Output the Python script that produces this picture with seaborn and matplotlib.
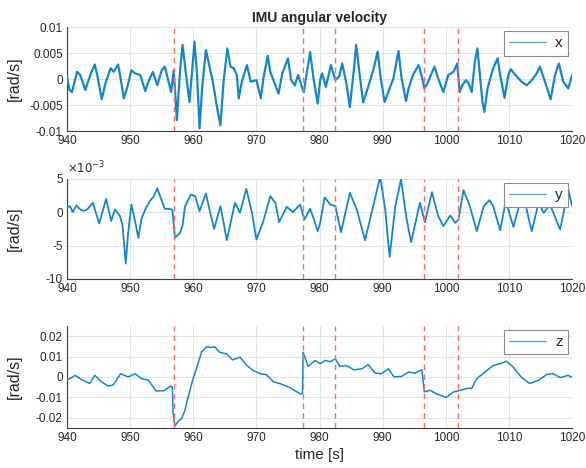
import numpy as np
import pandas as pd
import matplotlib
matplotlib.use("Agg")
import matplotlib.pyplot as plt
import seaborn as sns

# ---------------- data ----------------
t_x = [940.0, 940.4, 940.8, 941.6, 942.1, 942.9, 943.7, 944.4, 944.8, 945.5, 946.1, 946.9,
       947.4, 948.1, 948.4, 949.0, 949.5, 950.2, 950.8, 951.6, 952.4, 953.0, 953.6, 954.3,
       955.0, 955.5, 956.1, 956.5, 956.9, 957.2, 957.4, 957.9, 958.3, 958.8, 959.4, 959.8,
       960.2, 960.6, 961.0, 961.4, 962.0, 962.4, 963.1, 963.8, 964.3, 964.8, 965.4, 965.9,
       966.4, 966.9, 967.2, 967.7, 968.5, 969.1, 970.0, 970.7, 971.1, 971.8, 972.2, 973.0,
       973.5, 974.1, 975.0, 975.5, 976.1, 976.6, 977.2, 977.5, 978.0, 978.5, 979.0, 979.7,
       980.1, 980.4, 981.0, 981.8, 982.5, 983.1, 983.6, 984.3, 984.8, 985.4, 985.8, 986.3,
       986.9, 987.7, 988.5, 989.2, 989.7, 990.3, 991.0, 991.7, 992.5, 993.0, 993.7, 994.1,
       994.8, 995.7, 996.2, 996.6, 997.1, 998.2, 998.8, 999.6, 1000.4, 1001.2, 1001.8, 1002.2,
       1002.6, 1003.2, 1003.6, 1004.1, 1004.6, 1005.0, 1005.4, 1005.8, 1006.1, 1006.6, 1007.5,
       1008.2, 1008.6, 1009.3, 1009.9, 1010.3, 1011.0, 1012.0, 1012.8, 1013.6, 1014.4, 1014.9,
       1015.7, 1016.6, 1017.3, 1017.9, 1018.6, 1019.4, 1020.0]
v_x = [0.00045, -0.0021, -0.0025, 0.0014, 0.0008, -0.0021, 0.0008, 0.0028, 0.0008, -0.0039, -0.0008, 0.0021,
       0.0014, 0.0028, 0.0008, -0.0037, -0.0018, 0.0017, 0.0011, 0.0008, -0.0023, -0.0002, 0.0014, -0.0012,
       0.0017, 0.0024, -0.0005, -0.0025, 0.0017, -0.0037, -0.0079, 0.0014, 0.0066, 0.0014, -0.0044, 0.0014,
       0.0072, 0.0008, -0.0095, -0.0018, 0.0056, 0.0034, -0.0005, -0.0057, -0.0089, -0.0005, 0.0059, 0.0024,
       0.0021, 0.0008, -0.0037, -0.0005, 0.0027, -0.0005, -0.0002, -0.0037, 0.0001, 0.0045, 0.0014, -0.0012,
       -0.0028, 0.0011, 0.0040, -0.0002, -0.0012, 0.0008, -0.0015, -0.0025, 0.0014, 0.0052, 0.0005, -0.0047,
       -0.0002, 0.0011, -0.0015, 0.0027, -0.0002, 0.0005, 0.0030, -0.0012, -0.0054, 0.0014, 0.0066, 0.0014,
       -0.0045, -0.0015, 0.0017, 0.0053, 0.0001, -0.0044, -0.0021, 0.0001, 0.0054, 0.0001, -0.0042, -0.0018,
       0.0008, 0.0027, 0.0005, -0.0018, -0.0008, 0.0024, 0.0001, -0.0025, 0.0008, 0.0014, 0.0030, -0.0025,
       -0.0012, -0.0002, -0.0008, -0.0025, 0.0034, 0.0059, 0.0008, -0.0044, -0.0063, -0.0018, 0.0021,
       0.0040, 0.0008, -0.0036, 0.0008, 0.0019, 0.0008, -0.0005, -0.0012, -0.0002, 0.0011, 0.0024,
       -0.0005, -0.0039, 0.0008, 0.0030, -0.0005, -0.0018, 0.0008]

t_y = [940.0, 940.5, 940.9, 941.5, 942.1, 942.6, 943.2, 944.1, 945.1, 946.2, 947.0, 947.6,
       948.4, 948.8, 949.3, 949.7, 950.2, 950.7, 951.3, 951.8, 952.4, 953.1, 953.7, 954.3,
       954.9, 955.5, 956.3, 956.7, 957.1, 957.9, 958.3, 958.7, 959.6, 960.3, 961.0, 962.0,
       962.5, 963.3, 964.3, 964.7, 965.3, 965.8, 966.6, 967.4, 968.4, 969.3, 970.0, 971.1,
       972.2, 973.0, 973.6, 974.8, 975.8, 976.9, 977.6, 978.5, 979.1, 979.7, 980.1, 980.8,
       981.7, 982.5, 983.4, 984.8, 985.9, 987.2, 988.5, 989.6, 990.4, 991.1, 992.0, 992.9,
       993.8, 994.5, 995.9, 996.7, 997.8, 998.8, 999.6, 1000.7, 1001.5, 1002.0, 1002.8, 1003.8,
       1004.9, 1006.0, 1006.9, 1007.5, 1008.6, 1009.5, 1010.7, 1011.8, 1012.3, 1013.6, 1014.7,
       1015.5, 1016.5, 1018.1, 1019.4, 1020.0]
v_y_e3 = [0.7, 0.9, 0.0, 1.0, 0.4, 0.2, 0.4, 1.4, -1.7, 2.0, -1.3, 0.4,
          -0.6, -2.0, -7.7, -3.0, 1.15, -1.0, -3.85, -1.0, 0.4, 1.65, 2.3, 3.55,
          2.0, 0.5, 0.5, 0.3, -3.85, -3.1, -2.0, 0.9, 2.65, 2.4, 0.15, 2.8,
          0.65, -2.5, 0.9, -1.0, -4.2, -2.1, 1.4, -0.1, 3.5, -0.1, -4.1, -1.35,
          2.4, 1.4, -1.5, 0.8, 0.0, 1.15, -1.1, 0.5, -1.0, -2.85, -1.6, 2.2,
          1.15, 0.9, -3.0, 2.9, 0.4, -4.2, 0.9, 5.3, 0.4, -6.7, 0.9, 4.9,
          -1.1, -4.5, 1.4, -1.5, 3.0, -0.6, -2.1, -0.5, -1.6, -1.1, 3.3, 0.9,
          -2.85, 0.9, 1.8, 0.9, -2.7, 1.65, -2.2, 1.65, 2.4, -2.85, 1.4,
          -0.1, 1.15, -2.6, 3.4, 0.9]

t_z = [940.0, 941.3, 942.3, 943.6, 944.4, 945.5, 946.5, 947.3, 948.5, 949.7, 950.8, 951.8,
       952.9, 954.1, 955.3, 956.4, 956.7, 956.8, 957.1, 957.6, 958.2, 958.7, 959.2, 959.9,
       960.5, 961.3, 962.1, 962.9, 963.4, 964.2, 965.3, 966.2, 967.4, 968.5, 969.5, 970.6,
       971.6, 972.7, 973.7, 975.3, 977.0, 977.3, 977.4, 978.2, 979.3, 980.1, 980.9, 981.7,
       982.5, 983.2, 984.3, 985.4, 986.7, 987.7, 988.8, 989.8, 990.9, 991.8, 993.0, 994.1,
       995.1, 996.2, 996.6, 997.5, 998.6, 1000.1, 1001.2, 1002.0, 1003.3, 1004.1, 1004.9,
       1006.2, 1007.5, 1008.9, 1009.6, 1010.7, 1012.0, 1013.3, 1014.7, 1016.0, 1017.0,
       1018.1, 1019.4, 1020.0]
v_z = [-0.0016, 0.0008, -0.0013, -0.0032, 0.0008, -0.0024, -0.0044, -0.0040, 0.0016, 0.0000, 0.0016, -0.0008,
       -0.0016, -0.0068, -0.0068, -0.0044, -0.0050, -0.0177, -0.0239, -0.0218, -0.0202, -0.0161, -0.0097, -0.0016,
       0.0040, 0.0121, 0.0148, 0.0145, 0.0148, 0.0121, 0.0113, 0.0084, 0.0097, 0.0056, 0.0032, 0.0016,
       0.0011, -0.0024, -0.0032, -0.0052, -0.0084, -0.0080, 0.0121, 0.0052, 0.0081, 0.0065, 0.0081, 0.0075,
       0.0089, 0.0052, 0.0056, 0.0035, 0.0040, 0.0061, 0.0019, 0.0016, 0.0040, 0.0000, 0.0003, 0.0024,
       0.0019, 0.0035, -0.0073, -0.0065, -0.0084, -0.0100, -0.0073, -0.0068, -0.0056, -0.0056, -0.0008,
       0.0024, 0.0056, 0.0068, 0.0077, 0.0048, -0.0003, -0.0032, -0.0016, 0.0013, 0.0016,
       -0.0003, 0.0008, -0.0003]

event_times = [957.0, 977.4, 982.5, 996.5, 1002.0]

x_ticks = [940, 950, 960, 970, 980, 990, 1000, 1010, 1020]
x_yticks = [-0.01, -0.005, 0, 0.005, 0.01]
x_yticklabels = ["-0.01", "-0.005", "0", "0.005", "0.01"]
y_yticks = [-0.01, -0.005, 0, 0.005]
y_yticklabels = ["-10", "-5", "0", "5"]
z_yticks = [-0.02, -0.01, 0, 0.01, 0.02]
z_yticklabels = ["-0.02", "-0.01", "0", "0.01", "0.02"]

# ---------------- styling ----------------
sns.set_theme(style="whitegrid")
plt.rcParams["font.family"] = ["Liberation Sans", "DejaVu Sans"]
plt.rcParams["axes.unicode_minus"] = False

LINE = "#1686c9"
AXC = "#404040"
TXT = "#262626"

fig = plt.figure(figsize=(5.86, 4.68), dpi=100)
left, width = 0.1143, 0.862
ax1 = fig.add_axes([left, 0.720, width, 0.222])
ax2 = fig.add_axes([left, 0.404, width, 0.214])
ax3 = fig.add_axes([left, 0.0855, width, 0.218])

df_x = pd.DataFrame({"time": t_x, "val": v_x})
df_y = pd.DataFrame({"time": t_y, "val": np.array(v_y_e3) * 1e-3})
df_z = pd.DataFrame({"time": t_z, "val": v_z})

panels = [
    (ax1, df_x, "x", 1.6, (-0.01, 0.01)),
    (ax2, df_y, "y", 1.3, (-0.01, 0.005)),
    (ax3, df_z, "z", 1.1, (-0.025, 0.025)),
]

for ax, df, name, lw, ylim in panels:
    ax.set_facecolor("white")
    sns.lineplot(data=df, x="time", y="val", ax=ax, color=LINE, lw=lw,
                 estimator=None, sort=False, label=name, zorder=3)
    for et in event_times:
        ax.axvline(et, color="#ff6a6a", lw=1.0, ls=(0, (4, 3)), zorder=4)
    ax.set_xlim(940, 1020)
    ax.set_ylim(*ylim)
    ax.set_xticks(x_ticks)
    ax.grid(True, color="#e4e4e4", lw=0.8)
    for s in ["top", "right"]:
        ax.spines[s].set_visible(False)
    for s in ["left", "bottom"]:
        ax.spines[s].set_color(AXC)
        ax.spines[s].set_linewidth(0.8)
    ax.tick_params(axis="both", direction="in", length=3, width=0.7, color=AXC,
                   labelsize=8.5, labelcolor=TXT, pad=3)
    ax.set_ylabel("[rad/s]", fontsize=11.5, color=TXT)
    ax.yaxis.set_label_coords(-0.089, 0.5)
    ax.set_xlabel("")
    leg = ax.legend(loc="upper right", fontsize=11, frameon=True, fancybox=False,
                    handlelength=2.4, borderpad=0.35, handletextpad=0.6,
                    borderaxespad=0.25)
    leg.get_frame().set_edgecolor("#8a8a8a")
    leg.get_frame().set_linewidth(0.8)
    leg.get_frame().set_facecolor("white")
    leg.get_frame().set_alpha(1.0)
    leg.set_zorder(10)
    for h in leg.get_lines():
        h.set_linewidth(1.0)
        h.set_color("#5ab0e0")

ax1.set_yticks(x_yticks)
ax1.set_yticklabels(x_yticklabels)
ax2.set_yticks(y_yticks)
ax2.set_yticklabels(y_yticklabels)
ax2.text(0.0, 1.02, r"$\times10^{-3}$", transform=ax2.transAxes, fontsize=8.5,
         color=TXT, ha="left", va="bottom")
ax3.set_yticks(z_yticks)
ax3.set_yticklabels(z_yticklabels)

ax1.set_title("IMU angular velocity", fontsize=10, fontweight="bold", pad=4)
ax3.set_xlabel("time [s]", fontsize=11, color=TXT, labelpad=3)

fig.savefig("out.png", dpi=100)
